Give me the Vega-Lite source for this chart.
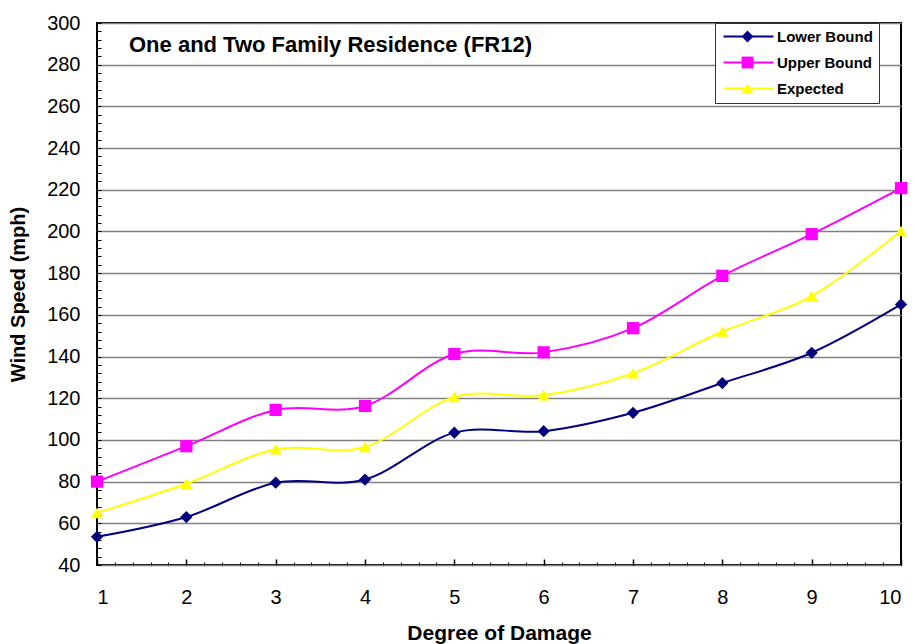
{
  "$schema": "https://vega.github.io/schema/vega-lite/v6.json",
  "width": 804,
  "height": 542,
  "autosize": {"type": "none"},
  "padding": {"left": 97, "top": 23, "right": 13, "bottom": 79},
  "background": "white",
  "config": {
    "view": {"stroke": "black", "strokeWidth": 2},
    "font": "Liberation Sans",
    "axis": {"labelColor": "black", "titleColor": "black", "labelFont": "Liberation Sans", "titleFont": "Liberation Sans"}
  },
  "title": {
    "text": "One and Two Family Residence (FR12)",
    "anchor": "start",
    "frame": "group",
    "orient": "top",
    "offset": 0,
    "dx": 32,
    "dy": 54,
    "baseline": "middle",
    "fontSize": 22,
    "fontWeight": "bold",
    "font": "Liberation Sans",
    "color": "black"
  },
  "data": {
    "values": [
      {"degree": 1, "series": "Lower Bound", "speed": 53.5},
      {"degree": 2, "series": "Lower Bound", "speed": 63},
      {"degree": 3, "series": "Lower Bound", "speed": 79.5},
      {"degree": 4, "series": "Lower Bound", "speed": 81},
      {"degree": 5, "series": "Lower Bound", "speed": 103.5},
      {"degree": 6, "series": "Lower Bound", "speed": 104.2},
      {"degree": 7, "series": "Lower Bound", "speed": 113},
      {"degree": 8, "series": "Lower Bound", "speed": 127.3},
      {"degree": 9, "series": "Lower Bound", "speed": 141.8},
      {"degree": 10, "series": "Lower Bound", "speed": 165},
      {"degree": 1, "series": "Upper Bound", "speed": 80},
      {"degree": 2, "series": "Upper Bound", "speed": 97},
      {"degree": 3, "series": "Upper Bound", "speed": 114.4},
      {"degree": 4, "series": "Upper Bound", "speed": 116.3},
      {"degree": 5, "series": "Upper Bound", "speed": 141.2},
      {"degree": 6, "series": "Upper Bound", "speed": 142},
      {"degree": 7, "series": "Upper Bound", "speed": 153.6},
      {"degree": 8, "series": "Upper Bound", "speed": 178.7},
      {"degree": 9, "series": "Upper Bound", "speed": 198.7},
      {"degree": 10, "series": "Upper Bound", "speed": 220.8},
      {"degree": 1, "series": "Expected", "speed": 65},
      {"degree": 2, "series": "Expected", "speed": 79},
      {"degree": 3, "series": "Expected", "speed": 95.5},
      {"degree": 4, "series": "Expected", "speed": 96.6},
      {"degree": 5, "series": "Expected", "speed": 120.6},
      {"degree": 6, "series": "Expected", "speed": 121.5},
      {"degree": 7, "series": "Expected", "speed": 132},
      {"degree": 8, "series": "Expected", "speed": 152},
      {"degree": 9, "series": "Expected", "speed": 169},
      {"degree": 10, "series": "Expected", "speed": 200.2}
    ]
  },
  "layer": [
    {
      "mark": {"type": "line", "interpolate": "cardinal", "tension": 0, "strokeWidth": 2},
      "encoding": {
        "x": {
          "field": "degree", "type": "quantitative",
          "scale": {"domain": [1, 10], "nice": false, "zero": false},
          "axis": {
            "orient": "bottom", "values": [1, 2, 3, 4, 5, 6, 7, 8, 9, 10],
            "grid": false, "ticks": false, "domain": false,
            "labelPadding": 22, "labelFontSize": 20,
            "title": "Degree of Damage", "titleFontSize": 21, "titleFontWeight": "bold", "titlePadding": 15
          }
        },
        "y": {
          "field": "speed", "type": "quantitative",
          "scale": {"domain": [40, 300], "nice": false, "zero": false},
          "axis": {
            "orient": "left", "values": [40, 60, 80, 100, 120, 140, 160, 180, 200, 220, 240, 260, 280, 300],
            "grid": true, "gridColor": "#808080", "gridWidth": 1.5,
            "ticks": false, "domain": false,
            "labelPadding": 17, "labelFontSize": 20,
            "title": "Wind Speed (mph)", "titleFontSize": 20, "titleFontWeight": "bold", "titlePadding": 18
          }
        },
        "stroke": {
          "field": "series", "type": "nominal",
          "scale": {"domain": ["Lower Bound", "Upper Bound", "Expected"], "range": ["#000080", "#FF00FF", "#FFFF00"]},
          "legend": {
            "orient": "none", "legendX": 618, "legendY": 0,
            "title": null,
            "symbolType": "M-5,0H5", "symbolSize": 100, "symbolStrokeWidth": 2,
            "symbolOffset": 20, "labelOffset": 21,
            "labelFont": "Liberation Sans", "labelFontSize": 15, "labelFontWeight": "bold", "labelColor": "black",
            "padding": 6, "rowPadding": 10,
            "strokeColor": "#333333", "fillColor": "white"
          }
        }
      }
    },
    {
      "mark": {"type": "point", "filled": true, "opacity": 1, "strokeWidth": 0},
      "encoding": {
        "x": {
          "field": "degree", "type": "quantitative",
          "axis": {
            "orient": "bottom", "values": [1, 2, 3, 4, 5, 6, 7, 8, 9, 10],
            "labels": false, "grid": false, "domain": false, "ticks": true,
            "tickSize": -6, "tickColor": "black", "tickWidth": 1.5, "title": null
          }
        },
        "y": {
          "field": "speed", "type": "quantitative",
          "axis": {
            "orient": "left",
            "values": [40, 44, 48, 52, 56, 60, 64, 68, 72, 76, 80, 84, 88, 92, 96, 100, 104, 108, 112, 116, 120, 124, 128, 132, 136, 140, 144, 148, 152, 156, 160, 164, 168, 172, 176, 180, 184, 188, 192, 196, 200, 204, 208, 212, 216, 220, 224, 228, 232, 236, 240, 244, 248, 252, 256, 260, 264, 268, 272, 276, 280, 284, 288, 292, 296, 300],
            "labels": false, "grid": false, "domain": false, "ticks": true,
            "tickSize": -4, "tickColor": "black", "tickWidth": 1, "title": null
          }
        },
        "fill": {
          "field": "series", "type": "nominal",
          "scale": {"domain": ["Lower Bound", "Upper Bound", "Expected"], "range": ["#000080", "#FF00FF", "#FFFF00"]},
          "legend": {
            "orient": "none", "legendX": 643, "legendY": 6,
            "title": null, "symbolSize": 140, "symbolStrokeWidth": 0,
            "symbolOffset": 0, "labelOffset": 24, "labelExpr": "''",
            "labelFont": "Liberation Sans", "labelFontSize": 15, "labelFontWeight": "bold",
            "padding": 0, "rowPadding": 10
          }
        },
        "shape": {
          "field": "series", "type": "nominal",
          "scale": {"domain": ["Lower Bound", "Upper Bound", "Expected"], "range": ["diamond", "square", "triangle-up"]},
          "legend": {
            "orient": "none", "legendX": 643, "legendY": 6,
            "title": null, "symbolSize": 140, "symbolStrokeWidth": 0,
            "symbolOffset": 0, "labelOffset": 24, "labelExpr": "''",
            "labelFont": "Liberation Sans", "labelFontSize": 15, "labelFontWeight": "bold",
            "padding": 0, "rowPadding": 10
          }
        },
        "size": {"value": 150}
      }
    },
    {
      "mark": {"type": "point", "opacity": 0},
      "encoding": {
        "x": {
          "field": "degree", "type": "quantitative",
          "axis": {
            "orient": "bottom",
            "values": [1, 1.2, 1.4, 1.6, 1.8, 2, 2.2, 2.4, 2.6, 2.8, 3, 3.2, 3.4, 3.6, 3.8, 4, 4.2, 4.4, 4.6, 4.8, 5, 5.2, 5.4, 5.6, 5.8, 6, 6.2, 6.4, 6.6, 6.8, 7, 7.2, 7.4, 7.6, 7.8, 8, 8.2, 8.4, 8.6, 8.8, 9, 9.2, 9.4, 9.6, 9.8, 10],
            "labels": false, "grid": false, "domain": false, "ticks": true,
            "tickSize": -3, "tickColor": "black", "tickWidth": 1, "title": null
          }
        },
        "y": {"field": "speed", "type": "quantitative", "axis": null}
      }
    }
  ],
  "resolve": {
    "axis": {"x": "independent", "y": "independent"},
    "legend": {"stroke": "independent", "fill": "independent", "shape": "independent"}
  }
}
